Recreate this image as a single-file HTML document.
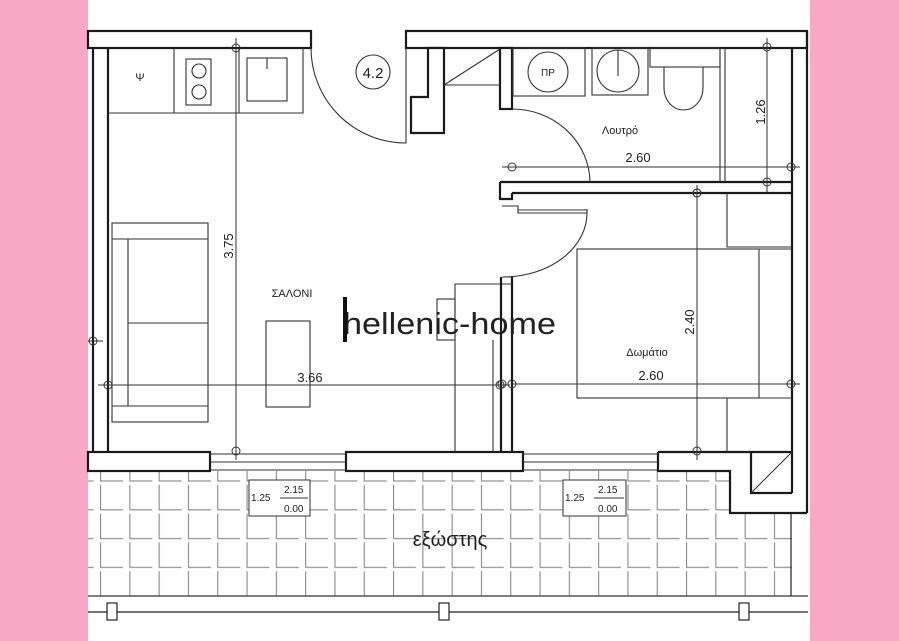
<!DOCTYPE html>
<html><head><meta charset="utf-8"><style>
html,body{margin:0;padding:0;background:#f8a9c5;}
svg{display:block}
text{font-family:"Liberation Sans",sans-serif;fill:#222}
</style></head><body>
<svg width="899" height="641" viewBox="0 0 899 641" xmlns="http://www.w3.org/2000/svg">
<defs>
<pattern id="tile" x="100" y="453" width="29.3" height="28.8" patternUnits="userSpaceOnUse">
<path d="M0.5 3 V28 H23" fill="none" stroke="#8a8a8a" stroke-width="1.2"/>
</pattern>
<marker id="m" viewBox="0 0 10 10" refX="5" refY="5" markerWidth="10" markerHeight="10" markerUnits="userSpaceOnUse"><circle cx="5" cy="5" r="4" fill="none" stroke="#333"/></marker>
</defs>
<rect x="88" y="0" width="722" height="641" fill="#fefefe"/>
<!-- tiles -->
<rect x="88" y="471" width="704" height="125" fill="url(#tile)"/>
<rect x="730" y="471" width="62" height="42" fill="#fefefe"/>
<g fill="none" stroke="#222" stroke-width="1.2">
<!-- balcony bottom -->
<line x1="88" y1="596" x2="808" y2="596" stroke="#555" stroke-width="1.5"/>
<line x1="88" y1="612" x2="808" y2="612"/>
<rect x="107" y="603" width="10" height="17" fill="#fff"/>
<rect x="439" y="603" width="10" height="17" fill="#fff"/>
<rect x="739" y="603" width="10" height="17" fill="#fff"/>
<line x1="791" y1="513" x2="791" y2="596"/>
</g>
<g fill="none" stroke="#1a1a1a" stroke-width="2.2">
<!-- top walls -->
<rect x="88" y="31" width="223" height="17" fill="#fff"/>
<rect x="406" y="31" width="401" height="17" fill="#fff"/>
<line x1="93" y1="48" x2="93" y2="452"/>
<line x1="108" y1="48" x2="108" y2="452"/>
<line x1="807" y1="31" x2="807" y2="513"/>
<line x1="792" y1="48" x2="792" y2="493"/>
<!-- entrance stub -->
<polygon points="428,48 428,97 411,97 411,133 444,133 444,48" fill="#fff"/>
<rect x="500" y="48" width="12" height="61" fill="#fff"/>
<!-- bath/bed wall -->
<path d="M512 193 H792 M500 182 H792 M500 182 V199 H512 V193" fill="#fff"/>
<!-- partition -->
<line x1="501" y1="277" x2="501" y2="452"/>
<line x1="512" y1="277" x2="512" y2="452"/>
<!-- bottom walls -->
<rect x="88" y="452" width="122" height="19" fill="#fff"/>
<rect x="346" y="452" width="177" height="19" fill="#fff"/>
<path d="M658 452 H792 M658 452 V471 H730 V513 H807 M751 452 V493 H792"/>
</g>
<g fill="none" stroke="#333" stroke-width="1.1">
<!-- windows -->
<path d="M210 454 H346 M210 462 H346 M210 470 H346"/>
<path d="M523 454 H658 M523 462 H658 M523 470 H658"/>
<line x1="751" y1="493" x2="792" y2="452"/>
<!-- entrance door -->
<path d="M311 48 A95 95 0 0 0 406 143 V48"/>
<circle cx="373" cy="72" r="17"/>
<!-- triangle -->
<path d="M444 85 H500 M444 85 L500 49"/>
<!-- kitchen -->
<path d="M108 113 H303 V48 M174 48 V113 M239 48 V113"/>
<rect x="186" y="59" width="25" height="46"/>
<circle cx="199" cy="71" r="7"/><circle cx="199" cy="92" r="7"/>
<rect x="247" y="58" width="40" height="43"/>
<line x1="267" y1="58" x2="267" y2="69"/>
<!-- bathroom -->
<rect x="513" y="48" width="72" height="48"/>
<circle cx="548" cy="72" r="20"/>
<rect x="592" y="48" width="56" height="47"/>
<circle cx="618" cy="71" r="21"/><line x1="618" y1="50" x2="618" y2="76"/>
<rect x="650" y="48" width="70" height="19"/>
<path d="M664 67 V88 A19.5 22 0 0 0 703 88 V67"/>
<path d="M720 48 V182 M725 48 V182"/>
<path d="M512 109 A78 74 0 0 1 590 182"/>
<!-- bedroom door -->
<path d="M502 206 H518 V213 H587 V209 M518 210 H587"/>
<path d="M587 213 A84 64 0 0 1 503 277"/>
<path d="M502 277 H512 M502 284 H512"/>
<!-- living room interior -->
<path d="M455 452 V284 H500 M493 340 V452"/>
<rect x="437" y="299" width="18" height="41"/>
<rect x="112" y="223" width="96" height="199"/>
<path d="M112 239 H208 M112 406 H208 M128 239 V406 M128 323 H208"/>
<rect x="266" y="321" width="44" height="86"/>
<!-- bedroom -->
<rect x="577" y="249" width="182" height="149"/>
<path d="M759 249 H792 M759 398 H792 M727 193 V247 H792 M727 398 V452"/>
</g>
<!-- dimension lines -->
<g fill="none" stroke="#333" stroke-width="1" marker-start="url(#m)" marker-end="url(#m)">
<line x1="236" y1="48" x2="236" y2="451"/>
<line x1="108" y1="385" x2="500" y2="385"/>
<line x1="512" y1="167" x2="791" y2="167"/>
<line x1="767" y1="47" x2="767" y2="182"/>
<line x1="697" y1="193" x2="697" y2="451"/>
<line x1="512" y1="384" x2="791" y2="384"/>
</g>
<g fill="none" stroke="#333" stroke-width="1">
<path d="M236 38 V48 M236 451 V460 M98 385 H108 M500 385 H510 M502 167 H512 M791 167 H800 M767 38 V47 M767 182 V192 M697 185 V193 M697 451 V460 M791 384 H800"/>
</g>
<g fill="none" stroke="#333" stroke-width="1" >
<circle cx="93" cy="341" r="4"/><line x1="88" y1="341" x2="103" y2="341"/>
<circle cx="502" cy="384" r="4"/><circle cx="697" cy="193" r="4"/>
</g>
<!-- balcony label boxes -->
<g fill="#fff" stroke="#333" stroke-width="1">
<rect x="249" y="480" width="61" height="36"/>
<rect x="563" y="480" width="63" height="36"/>
</g>
<g stroke="#333" stroke-width="1"><line x1="280" y1="498" x2="308" y2="498"/><line x1="594" y1="498" x2="624" y2="498"/></g>
<g font-size="10">
<text x="251" y="501">1.25</text><text x="284" y="493">2.15</text><text x="284" y="512">0.00</text>
<text x="565" y="501">1.25</text><text x="598" y="493">2.15</text><text x="598" y="512">0.00</text>
</g>
<text x="450" y="546" font-size="20" text-anchor="middle" fill="#333">εξώστης</text>
<!-- labels -->
<text x="373" y="78" font-size="15" text-anchor="middle">4.2</text>
<text x="140" y="81" font-size="11" text-anchor="middle">Ψ</text>
<text x="548" y="76" font-size="10" text-anchor="middle">ΠΡ</text>
<text x="620" y="134" font-size="11" text-anchor="middle">Λουτρό</text>
<text x="638" y="162" font-size="13" text-anchor="middle">2.60</text>
<text x="292" y="297" font-size="11" text-anchor="middle">ΣΑΛΟΝΙ</text>
<text x="310" y="382" font-size="13" text-anchor="middle">3.66</text>
<text x="647" y="356" font-size="11" text-anchor="middle">Δωμάτιο</text>
<text x="651" y="380" font-size="13" text-anchor="middle">2.60</text>
<text transform="translate(233,246) rotate(-90)" font-size="13" text-anchor="middle">3.75</text>
<text transform="translate(765,112) rotate(-90)" font-size="13" text-anchor="middle">1.26</text>
<text transform="translate(694,322) rotate(-90)" font-size="13" text-anchor="middle">2.40</text>
<!-- watermark -->
<text x="343" y="334" font-size="31" textLength="213" lengthAdjust="spacingAndGlyphs" fill="#111">hellenic-home</text>
<rect x="343" y="297" width="4" height="45" fill="#111"/>
</svg>
</body></html>
